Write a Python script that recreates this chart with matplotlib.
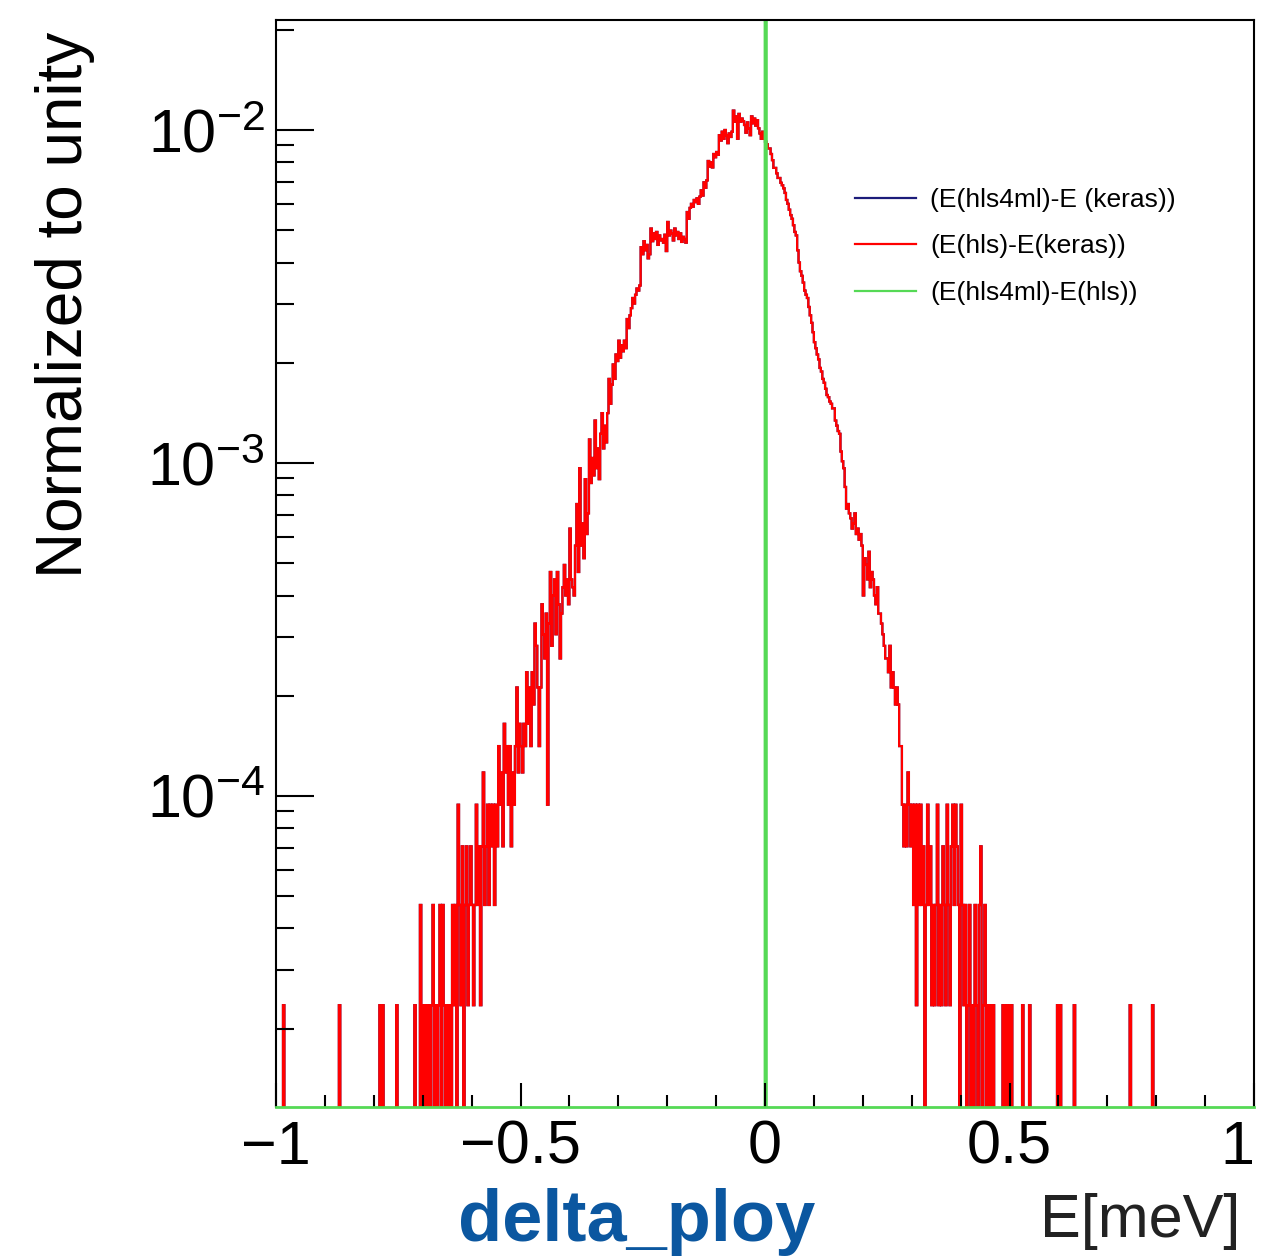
import numpy as np
import matplotlib
matplotlib.use("Agg")
import matplotlib.pyplot as plt
from matplotlib.lines import Line2D
from matplotlib.ticker import LogLocator, NullFormatter, MultipleLocator, FixedLocator, FuncFormatter

plt.rcParams['font.family'] = ['Liberation Sans', 'DejaVu Sans']
plt.rcParams['mathtext.default'] = 'regular'

# histogram binning (ROOT TH1 over [-1, 1] meV)
N_BINS = 700
X_MIN, X_MAX = -1.0, 1.0
x_major_ticks = [-1.0, -0.5, 0.0, 0.5, 1.0]

# E(hls)-E(keras): entries per bin, starting at bin 103
hls_keras_first_bin = 103
hls_keras_counts = [
    2, 0, 1, 0, 1, 0, 1, 0, 1, 2, 0, 1, 0, 1, 2, 0, 2, 1, 0, 1, 0,
    1, 0,
    2, 1, 2, 0, 4, 2, 1, 3,
    0, 2, 3, 1, 2, 3, 2, 1,
    2, 4, 2, 3, 1, 3,
    5, 2, 3,
    4, 2, 4, 3, 4, 2, 4, 3,
    6, 4,
    5, 3, 7, 5, 6, 4, 6, 3, 5, 4,
    6, 9, 5, 7, 6,
    5, 7, 6, 10, 7, 9, 6, 10, 8,
    14, 12, 9, 6,
    9, 16, 13, 11, 15, 4,
    14, 20, 12, 17, 19, 13, 20, 16, 11,
    15, 18, 21, 17, 19, 16, 27,
    19, 18, 17, 24, 32, 20, 41,
    24, 28, 22, 38, 26, 30, 50,
    37, 44, 39, 57, 41, 47, 38, 52,
    60, 47, 55, 49, 60, 76, 64, 73,
    84, 76, 90, 86, 99, 88, 96,
    92, 99, 94, 115, 108, 118,
    124, 133, 128, 136, 142, 140,
    145, 189, 180, 197, 185,
    192, 175, 180,
    215, 197, 208, 200, 210,
    192, 205, 198, 200, 195, 206, 184, 225, 205,
    212, 208, 198, 215, 205, 210, 200, 208, 196, 203, 200, 195, 241, 230,
    248, 255, 250, 262, 258, 265, 255, 268,
    280, 270, 296, 285, 300,
    343, 330, 340, 328,
    360, 352, 365, 358,
    410, 395, 420, 400, 425, 410, 388, 415, 405, 420,
    486, 450,
    467, 400, 475, 450, 460,
    452, 440, 417, 448, 430, 410,
    467, 445, 460, 438, 455,
    430, 415, 400, 420,
    400, 392, 385, 374,
    374, 360, 345, 327,
    327, 315, 305,
    305, 295, 290, 284,
    275, 262, 255, 245, 236,
    230, 220, 210, 205,
    185, 170, 160, 155,
    148, 140, 136, 133,
    125, 118, 112, 105, 98, 94,
    90, 87, 82, 80, 76, 74, 71, 68, 67,
    65, 64, 62, 62,
    57, 55, 53, 52,
    46, 43, 41,
    36, 31, 32,
    30, 29, 27, 28,
    30, 26, 27, 25, 26, 24,
    17, 22,
    21, 19, 23, 18, 20, 19,
    17, 16, 18, 15, 15,
    14, 13, 12, 11,
    11, 10, 12, 9, 10,
    9, 8, 9, 8,
    6, 6,
    4, 3, 4, 3, 5, 4, 3, 4,
    2, 4, 1, 4, 2,
    4, 2, 3, 0, 2, 4,
    2, 3, 1, 2, 1, 2,
    4, 1, 2, 1, 3, 2, 1, 4, 2, 1, 3,
    4, 2, 4, 3, 2, 0, 4, 2, 1,
    2, 0, 1, 2, 0, 1, 0, 2, 1, 0, 2, 3, 0, 1, 2, 0, 1, 0, 1, 0, 1,
]
# lone events far out in the tails [meV]
hls_keras_tail_entries = [
    -0.984, -0.870, -0.787, -0.781, -0.753, -0.716,
    0.487, 0.493, 0.499, 0.504, 0.527, 0.541,
    0.599, 0.604, 0.633, 0.747, 0.793,
]

# E(hls4ml)-E(keras) is identical to E(hls)-E(keras) (hidden under the red one)
hls4ml_keras_counts = hls_keras_counts
hls4ml_keras_tail_entries = hls_keras_tail_entries

# E(hls4ml)-E(hls): every event sits at exactly 0
hls4ml_hls_entries = [0.0]
hls4ml_hls_weights = [42600]

labels = ['(E(hls4ml)-E (keras))', '(E(hls)-E(keras))', '(E(hls4ml)-E(hls))']
colors = ['#1c1c7a', '#ff0000', '#55d955']
widths = [1.6, 1.6, 2.0]


def build_hist(first_bin, counts, tail, edges):
    h = np.zeros(len(edges) - 1)
    h[first_bin:first_bin + len(counts)] = counts
    h += np.histogram(tail, bins=edges)[0]
    return h


edges = np.linspace(X_MIN, X_MAX, N_BINS + 1)
blue = build_hist(hls_keras_first_bin, hls4ml_keras_counts, hls4ml_keras_tail_entries, edges)
red = build_hist(hls_keras_first_bin, hls_keras_counts, hls_keras_tail_entries, edges)
green = np.histogram(hls4ml_hls_entries, bins=edges, weights=hls4ml_hls_weights)[0].astype(float)

hists = []
for h in (blue, red, green):
    h = h / h.sum()  # normalized to unity
    # empty bins fall to the frame bottom like ROOT does on log scale
    hists.append(np.where(h > 0, h, 1e-12))

fig = plt.figure(figsize=(12.61, 12.57), dpi=100)
ax = fig.add_axes([276 / 1261, 1 - 1107 / 1257, 978 / 1261, 1087 / 1257])
ax.set_yscale('log')

for h, c, w in zip(hists, colors, widths):
    ax.stairs(h, edges, color=c, lw=w)

ax.set_xlim(X_MIN, X_MAX)
ax.set_ylim(1.164e-5, 0.0214)

ax.xaxis.set_major_locator(FixedLocator(x_major_ticks))
ax.xaxis.set_minor_locator(MultipleLocator(0.1))
ax.xaxis.set_major_formatter(FuncFormatter(lambda v, p: f"{v:g}".replace('-', '\u2212')))
ax.yaxis.set_major_locator(LogLocator(base=10))
ax.yaxis.set_minor_locator(LogLocator(base=10, subs=np.arange(2, 10)))
ax.yaxis.set_minor_formatter(NullFormatter())

ax.tick_params(axis='x', which='major', direction='in', length=17, width=1.5, labelsize=44, pad=9)
ax.tick_params(axis='x', which='minor', direction='in', length=9, width=1.5)
ax.tick_params(axis='y', which='major', direction='in', length=27, width=1.5, labelsize=44, pad=8)
ax.tick_params(axis='y', which='minor', direction='in', length=13, width=1.5)

for s in ax.spines.values():
    s.set_linewidth(1.5)
ax.spines['bottom'].set_color(colors[2])
ax.spines['bottom'].set_linewidth(2)

handles = [Line2D([], [], color=c, lw=1.6) for c in colors]
ax.legend(handles, labels, loc='upper left',
          bbox_to_anchor=((855 - 276) / 978, (1107 - 188) / 1087),
          frameon=False, fontsize=19, handlelength=2.3, handletextpad=0.55,
          labelspacing=0.85, borderpad=0, borderaxespad=0)

fig.text(65 / 1261, 1 - 305 / 1257, 'Normalized to unity', rotation=90,
         fontsize=46, ha='center', va='center')
fig.text(1240 / 1261, 1 - 1222 / 1257, 'E[meV]', fontsize=44,
         ha='right', va='center', color='#222222')
fig.text(637 / 1261, (1257 - 1241) / 1257, 'delta_ploy', fontsize=52,
         fontweight='bold', color='#0b57a0', ha='center', va='baseline')

# keep the last x label ("1") inside the canvas
fig.canvas.draw()
for tick in ax.xaxis.get_major_ticks():
    if abs(tick.get_loc() - X_MAX) < 1e-9:
        tick.label1.set_horizontalalignment('right')

fig.savefig('out.png', dpi=100)
